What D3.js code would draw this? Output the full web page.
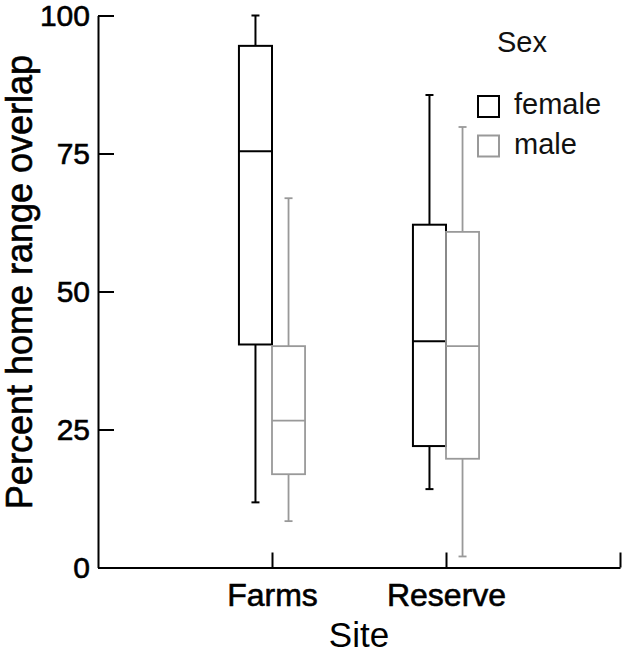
<!DOCTYPE html>
<html>
<head>
<meta charset="utf-8">
<script src="https://cdn.jsdelivr.net/npm/d3@7"></script>
<style>
  body { margin: 0; background: #fff; }
  svg { display: block; font-family: "Liberation Sans", Arial, sans-serif; }
  .heavy { stroke: #000; stroke-width: 0.6px; }
</style>
</head>
<body>
<div id="chart"></div>
<script>
// data, indexed [site][sex]
var sites = ["Farms", "Reserve"];
var sexes = ["female", "male"];
var sexColors = ["#000000", "#999999"];
var lowWhisker    = [[11.8, 8.4],  [14.2, 2.0]];
var lowerQuartile = [[40.4, 16.9], [22.0, 19.7]];
var medians       = [[75.4, 26.6], [41.0, 40.1]];
var upperQuartile = [[94.5, 40.1], [62.1, 60.8]];
var highWhisker   = [[100, 66.9],  [85.6, 79.8]];
var yTicks = [0, 25, 50, 75, 100];

var width = 625, height = 653;

var svg = d3.select("#chart").append("svg")
    .attr("width", width)
    .attr("height", height);

var x = d3.scaleLinear().domain([0, 3]).range([98, 620]);
var y = d3.scaleLinear().domain([0, 100]).range([567.5, 15.5]);
var boxW = x(0.19) - x(0);
var capW = 8;

// flatten groups
var groups = [];
sites.forEach(function(s, i){
    sexes.forEach(function(sx, j){
        groups.push({
            site: i, sex: j,
            lo: lowWhisker[i][j], q1: lowerQuartile[i][j], med: medians[i][j],
            q3: upperQuartile[i][j], hi: highWhisker[i][j]
        });
    });
});

function boxLeft(d){ return x(d.site + 1) + (d.sex === 0 ? -boxW : 0); }
function boxMid(d){ return boxLeft(d) + boxW / 2; }

////////////////////////////////////////////////
// axes

var yAxis = d3.axisLeft(y)
    .tickValues(yTicks)
    .tickSize(-16)
    .tickSizeOuter(0)
    .tickPadding(8);

var yg = svg.append("g")
    .attr("transform", "translate(" + x(0) + ",0)")
    .call(yAxis);
yg.select(".domain").attr("stroke-width", 2);
yg.selectAll(".tick line").attr("stroke-width", 2);
yg.selectAll(".tick text").attr("font-size", 30).attr("font-family", null)
    .attr("fill", "#000").attr("class", "heavy");

var xAxis = d3.axisBottom(x)
    .tickValues([1, 2, 3])
    .tickFormat(function(d){ return sites[d - 1] || ""; })
    .tickSize(-15)
    .tickSizeOuter(0)
    .tickPadding(16);

var xg = svg.append("g")
    .attr("transform", "translate(0," + y(0) + ")")
    .call(xAxis);
xg.select(".domain").attr("stroke-width", 2);
xg.selectAll(".tick line").attr("stroke-width", 2);
xg.selectAll(".tick text").attr("font-size", 32).attr("font-family", null)
    .attr("fill", "#000").attr("class", "heavy");

svg.append("text")
    .attr("x", (x(0) + x(3)) / 2)
    .attr("y", 647)
    .attr("text-anchor", "middle")
    .attr("font-size", 35)
    .text("Site");

svg.append("text")
    .attr("class", "heavy")
    .attr("transform", "translate(32,282) rotate(-90)")
    .attr("text-anchor", "middle")
    .attr("font-size", 36)
    .text("Percent home range overlap");

////////////////////////////////////////////////
// boxes

var g = svg.selectAll("g.box")
    .data(groups)
    .enter()
    .append("g")
    .attr("class", "box")
    .attr("stroke", function(d){ return sexColors[d.sex]; })
    .attr("stroke-width", function(d){ return d.sex === 0 ? 2 : 1.8; })
    .attr("fill", "none");

// whiskers
g.append("line")
    .attr("x1", boxMid).attr("x2", boxMid)
    .attr("y1", function(d){ return y(d.hi); })
    .attr("y2", function(d){ return y(d.q3); });
g.append("line")
    .attr("x1", boxMid).attr("x2", boxMid)
    .attr("y1", function(d){ return y(d.q1); })
    .attr("y2", function(d){ return y(d.lo); });
g.append("line")
    .attr("x1", function(d){ return boxMid(d) - capW / 2; })
    .attr("x2", function(d){ return boxMid(d) + capW / 2; })
    .attr("y1", function(d){ return y(d.hi); })
    .attr("y2", function(d){ return y(d.hi); });
g.append("line")
    .attr("x1", function(d){ return boxMid(d) - capW / 2; })
    .attr("x2", function(d){ return boxMid(d) + capW / 2; })
    .attr("y1", function(d){ return y(d.lo); })
    .attr("y2", function(d){ return y(d.lo); });

// box
g.append("rect")
    .attr("x", boxLeft)
    .attr("width", boxW)
    .attr("y", function(d){ return y(d.q3); })
    .attr("height", function(d){ return y(d.q1) - y(d.q3); });

// median
g.append("line")
    .attr("x1", boxLeft)
    .attr("x2", function(d){ return boxLeft(d) + boxW; })
    .attr("y1", function(d){ return y(d.med); })
    .attr("y2", function(d){ return y(d.med); });

////////////////////////////////////////////////
// legend

svg.append("text")
    .attr("x", 497)
    .attr("y", 52)
    .attr("font-size", 29)
    .attr("fill", "#111")
    .text("Sex");

var leg = svg.selectAll("g.legend")
    .data(sexes)
    .enter()
    .append("g")
    .attr("class", "legend")
    .attr("transform", function(d, i){ return "translate(478," + (96 + i * 39.5) + ")"; });

leg.append("rect")
    .attr("width", 21)
    .attr("height", 21)
    .attr("fill", "none")
    .attr("stroke", function(d, i){ return sexColors[i]; })
    .attr("stroke-width", 2);

leg.append("text")
    .attr("x", 36)
    .attr("y", 18)
    .attr("font-size", 29)
    .attr("fill", "#111")
    .text(function(d){ return d; });
</script>
</body>
</html>
